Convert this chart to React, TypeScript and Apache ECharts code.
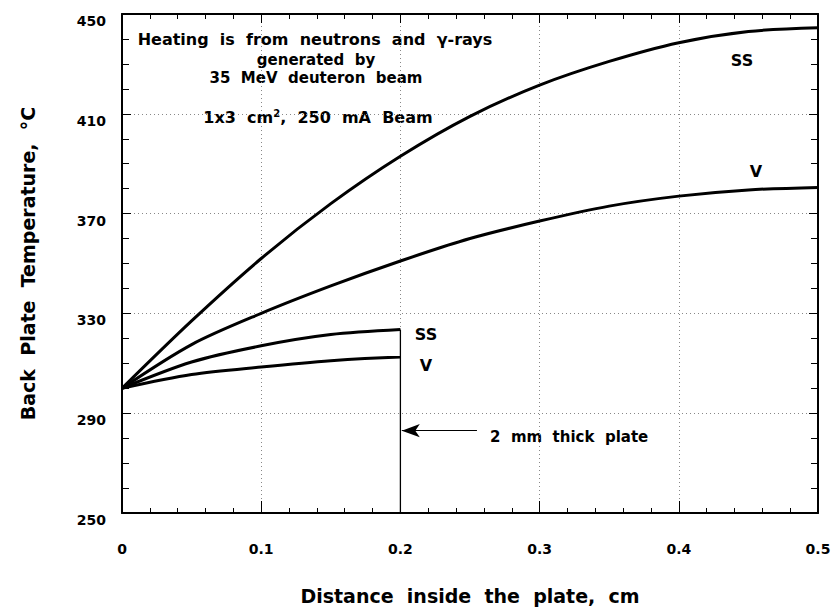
import React, { useEffect, useRef } from "react";
import * as echarts from "echarts";

const xValues = [0, 0.05, 0.1, 0.15, 0.2, 0.25, 0.3, 0.35, 0.4, 0.45, 0.5];
const ssThick = [300, 327, 352, 374, 393, 409, 421.5, 431, 438.5, 443, 444.5];
const vThick = [300, 317.5, 330, 341, 351, 360, 367, 373, 377, 379.5, 380.5];
const xPlate = [0, 0.05, 0.1, 0.15, 0.2];
const ssPlate = [300, 310.5, 317, 321.5, 323.5];
const vPlate = [300, 305.5, 308.5, 311, 312.5];
const plateEdgeX = [0.2, 0.2];
const plateEdgeY = [250, 323.5];
const arrowY = 283;
const arrowFromX = 0.255;
const arrowToX = 0.2;

const xTicks = ["0", "0.1", "0.2", "0.3", "0.4", "0.5"];

const FONT = "'DejaVu Sans', 'Liberation Sans', Arial, sans-serif";

const zip = (xs: number[], ys: number[]) => xs.map((x, i) => [x, ys[i]]);

export default function App() {
  const ref = useRef<HTMLDivElement>(null);
  useEffect(() => {
    if (!ref.current) return;
    const chart = echarts.init(ref.current, null, { renderer: "svg" });
    const txt = (x: number, y: number, text: string, size = 14, align = "center") => ({
      type: "text",
      x,
      y,
      style: {
        text,
        font: `bold ${size}px ${FONT}`,
        fill: "#000",
        textAlign: align,
        textVerticalAlign: "middle",
      },
    });
    const lineStyle = { color: "#000", width: 3 };
    chart.setOption({
      animation: false,
      backgroundColor: "#fff",
      grid: { left: 122, top: 14, right: 16, bottom: 91 },
      xAxis: [
        {
          type: "value",
          min: 0,
          max: 0.5,
          interval: 0.1,
          name: "Distance  inside  the  plate,  cm",
          nameLocation: "middle",
          nameGap: 73,
          nameTextStyle: { fontFamily: FONT, fontWeight: "bold", fontSize: 19, color: "#000" },
          axisLine: { show: true, onZero: false, lineStyle: { color: "#000", width: 2 } },
          axisTick: { show: true, inside: true, length: 12, lineStyle: { color: "#000", width: 1 } },
          minorTick: { show: true, splitNumber: 5, length: 5, lineStyle: { color: "#000", width: 1 } },
          axisLabel: {
            margin: 29,
            fontFamily: FONT,
            fontWeight: "bold",
            fontSize: 14,
            color: "#000",
            formatter: (v: number) => xTicks[Math.round(v * 10)] ?? "",
          },
          splitLine: { show: true, lineStyle: { color: "#888", type: [1, 3], width: 1 } },
        },
        {
          type: "value",
          position: "top",
          min: 0,
          max: 0.5,
          interval: 0.1,
          axisLine: { show: true, onZero: false, lineStyle: { color: "#000", width: 2 } },
          axisTick: { show: true, inside: true, length: 9, lineStyle: { color: "#000", width: 1 } },
          minorTick: { show: true, splitNumber: 5, length: 5, lineStyle: { color: "#000", width: 1 } },
          axisLabel: { show: false },
          splitLine: { show: false },
        },
      ],
      yAxis: [
        {
          type: "value",
          min: 250,
          max: 450,
          interval: 40,
          name: "Back  Plate  Temperature,  °C",
          nameLocation: "middle",
          nameGap: 85,
          nameTextStyle: { fontFamily: FONT, fontWeight: "bold", fontSize: 19, color: "#000" },
          axisLine: { show: true, onZero: false, lineStyle: { color: "#000", width: 2 } },
          axisTick: { show: true, inside: true, length: 9, lineStyle: { color: "#000", width: 1 } },
          minorTick: { show: true, splitNumber: 4, length: 7, lineStyle: { color: "#000", width: 1 } },
          axisLabel: {
            margin: 16,
            fontFamily: FONT,
            fontWeight: "bold",
            fontSize: 14,
            color: "#000",
            verticalAlign: "top",
          },
          splitLine: { show: true, lineStyle: { color: "#888", type: [1, 3], width: 1 } },
        },
        {
          type: "value",
          position: "right",
          min: 250,
          max: 450,
          interval: 40,
          axisLine: { show: true, onZero: false, lineStyle: { color: "#000", width: 2 } },
          axisTick: { show: true, inside: true, length: 9, lineStyle: { color: "#000", width: 1 } },
          minorTick: { show: true, splitNumber: 4, length: 7, lineStyle: { color: "#000", width: 1 } },
          axisLabel: { show: false },
          splitLine: { show: false },
        },
      ],
      series: [
        {
          type: "line",
          name: "SS thick",
          data: zip(xValues, ssThick),
          smooth: 0.3,
          symbol: "none",
          lineStyle,
        },
        {
          type: "line",
          name: "V thick",
          data: zip(xValues, vThick),
          smooth: 0.3,
          symbol: "none",
          lineStyle,
        },
        {
          type: "line",
          name: "SS 2 mm",
          data: zip(xPlate, ssPlate),
          smooth: 0.3,
          symbol: "none",
          lineStyle,
        },
        {
          type: "line",
          name: "V 2 mm",
          data: zip(xPlate, vPlate),
          smooth: 0.3,
          symbol: "none",
          lineStyle,
        },
        {
          type: "line",
          name: "plate edge",
          data: zip(plateEdgeX, plateEdgeY),
          symbol: "none",
          lineStyle: { color: "#000", width: 1.3 },
          markLine: {
            silent: true,
            symbol: ["none", "arrow"],
            symbolSize: [10, 18],
            label: { show: false },
            lineStyle: { color: "#000", width: 1, type: "solid" },
            data: [[{ coord: [arrowFromX, arrowY] }, { coord: [arrowToX + 0.001, arrowY] }]],
          },
        },
      ],
      graphic: [
        txt(315, 39, "Heating  is  from  neutrons  and  γ-rays", 16),
        txt(316, 60, "generated  by", 15),
        txt(316, 78, "35  MeV  deuteron  beam", 15),
        {
          type: "text",
          x: 318,
          y: 117,
          style: {
            text: "1x3  cm{sup|2},  250  mA  Beam",
            font: `bold 16px ${FONT}`,
            fill: "#000",
            textAlign: "center",
            textVerticalAlign: "middle",
            rich: {
              sup: { font: `bold 10px ${FONT}`, fill: "#000", verticalAlign: "top", padding: [0, 0, 8, 0] },
            },
          },
        },
        txt(742, 60, "SS", 16),
        txt(756, 171, "V", 16),
        txt(426, 334, "SS", 16),
        txt(426, 365, "V", 16),
        txt(490, 437, "2  mm  thick  plate", 15, "left"),
      ],
    });
    return () => chart.dispose();
  }, []);
  return (
    <div
      ref={ref}
      style={{ position: "fixed", left: 0, top: 0, width: 834, height: 610, background: "#fff" }}
    />
  );
}
